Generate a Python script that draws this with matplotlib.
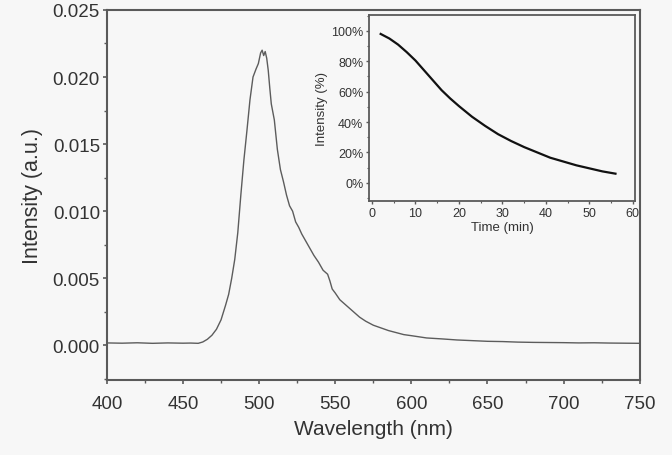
import matplotlib
matplotlib.use("Agg")
import matplotlib.pyplot as plt
from matplotlib.ticker import MultipleLocator, FuncFormatter

plt.rcParams['font.family'] = ['Liberation Sans', 'DejaVu Sans']

# Main spectrum (wavelength nm, intensity a.u.)
wavelength = [400, 410, 420, 430, 440, 450, 455, 460, 463, 466, 469, 472, 475,
              478, 480, 482, 484, 486, 488, 490, 492, 494, 496, 498, 499.5,
              501, 502, 503, 504, 505, 506, 507, 508, 510, 512, 514, 516, 518,
              520, 522, 524, 526, 528, 530, 533, 536, 539, 542, 545, 546.5,
              548, 550, 553, 556, 559, 562, 566, 570, 575, 580, 585, 590, 595,
              600, 610, 620, 630, 640, 650, 660, 670, 680, 690, 700, 710, 720,
              730, 740, 750]
intensity = [0.00018, 0.00016, 0.00019, 0.00015, 0.00018, 0.00016, 0.00017,
             0.00015, 0.00025, 0.00045, 0.00075, 0.0012, 0.0019, 0.0030,
             0.0038, 0.0050, 0.0064, 0.0084, 0.0112, 0.0138, 0.0160, 0.0183,
             0.0200, 0.0206, 0.0210, 0.0218, 0.0220, 0.0216, 0.0219, 0.0214,
             0.0205, 0.0192, 0.0180, 0.0168, 0.0146, 0.0131, 0.0122, 0.0112,
             0.0104, 0.0100, 0.0092, 0.0088, 0.0083, 0.0079, 0.0073, 0.0067,
             0.0062, 0.0056, 0.0053, 0.0048, 0.0042, 0.0039, 0.0034, 0.0031,
             0.0028, 0.0025, 0.0021, 0.0018, 0.0015, 0.0013, 0.0011, 0.00095,
             0.0008, 0.00072, 0.00055, 0.00048, 0.0004, 0.00035, 0.0003,
             0.00028, 0.00024, 0.00022, 0.00021, 0.0002, 0.00018, 0.00019,
             0.00017, 0.00016, 0.00015]

# Inset decay curve (time min, intensity %)
time_min = [2, 4, 6, 8, 10, 12, 14, 16, 18, 20, 23, 26, 29, 32, 35, 38, 41,
            44, 47, 50, 53, 56]
decay_pct = [98, 95, 91, 86, 80.5, 74, 67.5, 61, 55.5, 50.5, 43.5, 37.5,
             32, 27.5, 23.5, 20, 16.5, 14, 11.5, 9.5, 7.5, 6]

x_ticks = [400, 450, 500, 550, 600, 650, 700, 750]
y_ticks = [0.000, 0.005, 0.010, 0.015, 0.020, 0.025]
inset_x_ticks = [0, 10, 20, 30, 40, 50, 60]
inset_y_ticks = [0, 20, 40, 60, 80, 100]

bg = '#f7f7f7'
spine_c = '#5a5a5a'
text_c = '#333333'

fig = plt.figure(figsize=(6.72, 4.56), dpi=100, facecolor=bg)
ax = fig.add_axes([0.159, 0.164, 0.793, 0.812], facecolor=bg)
ax.plot(wavelength, intensity, color='#5c5c5c', lw=1.0)
ax.set_xlim(400, 750)
ax.set_ylim(-0.0026, 0.025)
ax.set_xticks(x_ticks)
ax.set_yticks(y_ticks)
ax.xaxis.set_minor_locator(MultipleLocator(25))
ax.yaxis.set_minor_locator(MultipleLocator(0.0025))
ax.yaxis.set_major_formatter(FuncFormatter(lambda v, p: f"{v:.3f}"))
ax.tick_params(which='major', direction='out', length=3, width=1.2,
               color=spine_c, labelsize=13.5, labelcolor=text_c, pad=2)
ax.tick_params(axis='x', which='major', pad=8)
ax.tick_params(which='minor', direction='out', length=2, width=1.0, color=spine_c)
for s in ax.spines.values():
    s.set_color(spine_c)
    s.set_linewidth(1.5)
ax.set_xlabel('Wavelength (nm)', fontsize=15, color=text_c, labelpad=5)
ax.set_ylabel('Intensity (a.u.)', fontsize=15.5, color=text_c, labelpad=7)

ins = fig.add_axes([0.549, 0.557, 0.396, 0.408], facecolor=bg)
ins.plot(time_min, decay_pct, color='#111111', lw=1.6)
ins.set_xlim(-0.7, 60.5)
ins.set_ylim(-12, 110.5)
ins.set_xticks(inset_x_ticks)
ins.set_yticks(inset_y_ticks)
ins.xaxis.set_minor_locator(MultipleLocator(5))
ins.yaxis.set_minor_locator(MultipleLocator(10))
ins.yaxis.set_major_formatter(FuncFormatter(lambda v, p: f"{int(v)}%"))
ins.tick_params(which='major', direction='out', length=2.5, width=1.0,
                color=spine_c, labelsize=9, labelcolor=text_c, pad=1.5)
ins.tick_params(which='minor', direction='out', length=1.5, width=0.8, color=spine_c)
for s in ins.spines.values():
    s.set_color(spine_c)
    s.set_linewidth(1.3)
ins.set_xlabel('Time (min)', fontsize=9.5, color=text_c, labelpad=2)
ins.set_ylabel('Intensity (%)', fontsize=9.5, color=text_c, labelpad=2)

fig.savefig('out.png', dpi=100, facecolor=bg)
